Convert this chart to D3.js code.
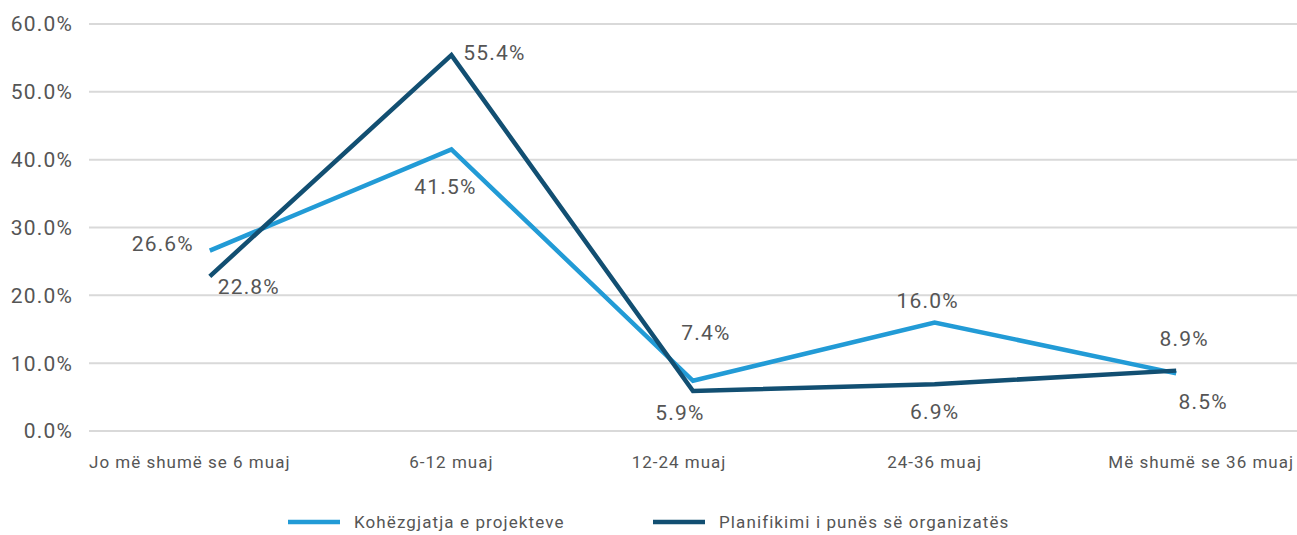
<!DOCTYPE html>
<html>
<head>
<meta charset="utf-8">
<script src="https://d3js.org/d3.v7.min.js"></script>
<style>
  body { margin: 0; background: #fff; }
  text { font-family: Roboto, "Noto Sans", sans-serif; fill: #555555; font-weight: 400; }
</style>
</head>
<body>
<div id="container"></div>
<script>
// Dados
var categorias = ["Jo më shumë se 6 muaj", "6-12 muaj", "12-24 muaj", "24-36 muaj", "Më shumë se 36 muaj"];
var kohezgjatja = [26.6, 41.5, 7.4, 16.0, 8.5];
var planifikimi = [22.8, 55.4, 5.9, 6.9, 8.9];
var yTicks = [0, 10, 20, 30, 40, 50, 60];
var seriesNames = ["Kohëzgjatja e projekteve", "Planifikimi i punës së organizatës"];

var W = 1297, H = 535;
var margin = { top: 24, left: 89, right: 0, bottom: 104 },
    width = W - margin.left - margin.right,
    height = H - margin.top - margin.bottom;

var colors = ["#229bd6", "#124f72"];

var svg = d3.select("#container")
  .append("svg")
  .attr("width", W)
  .attr("height", H)
  .append("g")
  .attr("transform", "translate(" + margin.left + "," + margin.top + ")");

// Escalas
var x = d3.scaleBand().domain(categorias).range([0, width]);
var y = d3.scaleLinear().domain([0, 60]).range([height, 0]);
var cx = function(c) { return x(c) + x.bandwidth() / 2 };

// Grid
svg.selectAll(".grid")
  .data(yTicks)
  .enter().append("line")
  .attr("x1", 0).attr("x2", width)
  .attr("y1", function(d) { return y(d) })
  .attr("y2", function(d) { return y(d) })
  .attr("stroke", "#d9d9d9")
  .attr("stroke-width", 2)

// Eixo Y
svg.selectAll(".ylab")
  .data(yTicks)
  .enter().append("text")
  .attr("x", -16)
  .attr("y", function(d) { return y(d) })
  .attr("dy", "0.35em")
  .attr("text-anchor", "end")
  .attr("font-size", 21)
  .attr("letter-spacing", 1.2)
  .text(function(d) { return d.toFixed(1) + "%" })

// Eixo X (primeiro e último rótulos encostados nas bordas)
var xShift = [0, 0, -14, 0, 0];
svg.selectAll(".xlab")
  .data(categorias)
  .enter().append("text")
  .attr("y", height + 37)
  .attr("font-size", 17)
  .attr("letter-spacing", 1)
  .attr("text-anchor", function(d, i) {
    return i == 0 ? "start" : (i == categorias.length - 1 ? "end" : "middle")
  })
  .attr("x", function(d, i) {
    if (i == 0) return 0;
    if (i == categorias.length - 1) return width - 3;
    return cx(d) + xShift[i];
  })
  .text(function(d) { return d })

// Linhas
var line = d3.line()
  .x(function(d, i) { return cx(categorias[i]) })
  .y(function(d) { return y(d) });

[kohezgjatja, planifikimi].forEach(function(serie, k) {
  svg.append("path")
    .datum(serie)
    .attr("d", line)
    .attr("fill", "none")
    .attr("stroke", colors[k])
    .attr("stroke-width", 4.5)
    .attr("stroke-linejoin", "miter")
})

// Rótulos (deslocamentos dx, dy por ponto)
var offK = [[-47, -7], [-6, 37], [13, -48], [-7, -22], [27, 28]];
var offP = [[39, 10], [43, -3], [-13, 22], [0, 27], [8, -32]];

function labels(serie, off) {
  svg.selectAll(null)
    .data(serie)
    .enter().append("text")
    .attr("x", function(d, i) { return cx(categorias[i]) + off[i][0] })
    .attr("y", function(d, i) { return y(d) + off[i][1] })
    .attr("dy", "0.35em")
    .attr("text-anchor", "middle")
    .attr("font-size", 21)
    .attr("letter-spacing", 1.2)
    .text(function(d) { return d.toFixed(1) + "%" })
}
labels(kohezgjatja, offK);
labels(planifikimi, offP);

// Legenda
var legX = [288 - margin.left, 653 - margin.left];
var legend = svg.selectAll(".legend")
  .data(seriesNames)
  .enter().append("g")
  .attr("transform", function(d, i) { return "translate(" + legX[i] + "," + (522 - margin.top) + ")" })

legend.append("line")
  .attr("x1", 0).attr("x2", 52)
  .attr("stroke", function(d, i) { return colors[i] })
  .attr("stroke-width", 4.5)

legend.append("text")
  .attr("x", 66)
  .attr("dy", "0.35em")
  .attr("font-size", 17)
  .attr("letter-spacing", 1.1)
  .text(function(d) { return d })
</script>
</body>
</html>
